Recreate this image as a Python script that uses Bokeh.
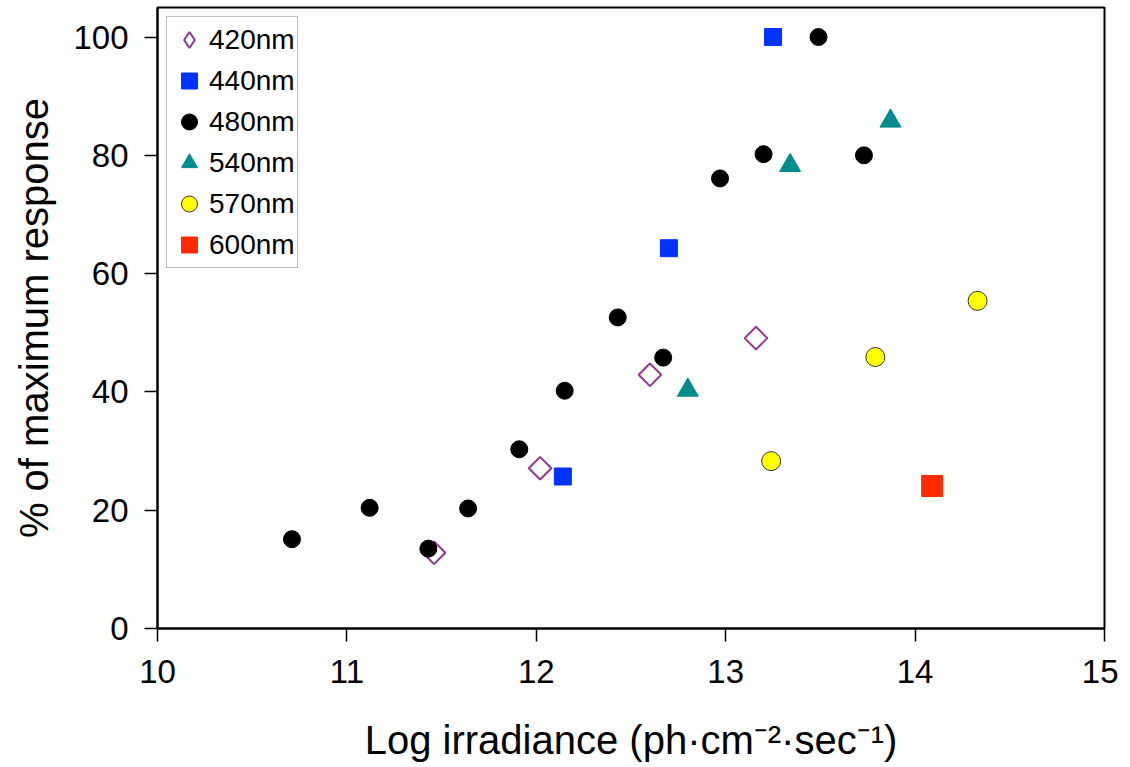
import math
from bokeh.plotting import figure
from bokeh.models import Range1d, FixedTicker, ColumnDataSource, LegendItem, Legend
from bokeh.embed import file_html
from bokeh.resources import INLINE

# ---- data ----
x_420 = [11.46, 12.02, 12.60, 13.16]
y_420 = [12.8, 27.1, 42.9, 49.1]

x_440 = [12.14, 12.70, 13.25]
y_440 = [25.7, 64.3, 100.0]

x_480 = [10.71, 11.12, 11.43, 11.64, 11.91, 12.15, 12.43, 12.67, 12.97, 13.20, 13.49, 13.73]
y_480 = [15.1, 20.4, 13.5, 20.3, 30.3, 40.2, 52.6, 45.8, 76.1, 80.2, 100.0, 80.0]

x_540 = [12.80, 13.34, 13.87]
y_540 = [40.3, 78.3, 85.8]

x_570 = [13.24, 13.79, 14.33]
y_570 = [28.3, 45.9, 55.4]

x_600 = [14.09]
y_600 = [24.1]

x_ticks = [10, 11, 12, 13, 14, 15]
y_ticks = [0, 20, 40, 60, 80, 100]

FONT = "Liberation Sans"
PURPLE = "#993399"

p = figure(
    width=1118, height=762,
    frame_width=947, frame_height=621,
    min_border_left=157, min_border_right=14, min_border_top=7, min_border_bottom=134,
    x_range=Range1d(10, 15), y_range=Range1d(0, 105),
    output_backend="svg", toolbar_location=None,
    background_fill_color="white", border_fill_color="white",
)

p.xgrid.visible = False
p.ygrid.visible = False
p.outline_line_color = "black"
p.outline_line_width = 2

for ax in (p.xaxis[0], p.yaxis[0]):
    ax.axis_line_width = 2
    ax.axis_line_color = "black"
    ax.major_tick_line_width = 1.5
    ax.major_tick_out = 13
    ax.major_tick_in = 0
    ax.minor_tick_line_color = None
    ax.major_label_text_font = FONT
    ax.major_label_text_font_size = "33px"
    ax.major_label_text_color = "black"
    ax.axis_label_text_font = FONT
    ax.axis_label_text_font_size = "40px"
    ax.axis_label_text_font_style = "normal"
    ax.axis_label_text_color = "black"

p.xaxis.ticker = FixedTicker(ticks=x_ticks)
p.yaxis.ticker = FixedTicker(ticks=y_ticks)
p.xaxis.axis_label = "Log irradiance (ph\u00b7cm\u207b\u00b2\u00b7sec\u207b\u00b9)"
p.yaxis.axis_label = "% of maximum response"
p.xaxis.major_label_standoff = 18
p.yaxis.major_label_standoff = 16
p.xaxis.axis_label_standoff = 32
p.yaxis.axis_label_standoff = 14

# ---- series ----
# legend swatch for 420nm (open diamond): its points are all "selected" and
# drawn with an invisible selection glyph, so only the legend shows this shape
src_420_legend = ColumnDataSource(data=dict(x=x_420, y=y_420))
src_420_legend.selected.indices = list(range(len(x_420)))
r420_legend = p.scatter("x", "y", source=src_420_legend,
                        marker="diamond", size=20, fill_color=None,
                        line_color=PURPLE, line_width=2,
                        selection_fill_alpha=0, selection_line_alpha=0,
                        nonselection_fill_alpha=0, nonselection_line_alpha=0)

# the 420nm points themselves: squares turned 45 degrees
p.scatter(x_420, y_420, marker="square", angle=math.pi / 4, size=16,
          fill_color=None, line_color=PURPLE, line_width=2)
r440 = p.scatter(x_440, y_440, marker="square", size=17,
                 fill_color="#0033ff", line_color="#0033ff", line_width=1)
r480 = p.scatter(x_480, y_480, marker="circle", size=17,
                 fill_color="black", line_color="black")
r540 = p.scatter(x_540, y_540, marker="triangle", size=21,
                 fill_color="#008c8c", line_color="#008c8c")
r570 = p.scatter(x_570, y_570, marker="circle", size=19,
                 fill_color="#ffff00", line_color="#333333", line_width=1)
r600 = p.scatter(x_600, y_600, marker="square", size=21,
                 fill_color="#ff2a00", line_color="#ff2a00")

lg = Legend(items=[
    LegendItem(label="420nm", renderers=[r420_legend]),
    LegendItem(label="440nm", renderers=[r440]),
    LegendItem(label="480nm", renderers=[r480]),
    LegendItem(label="540nm", renderers=[r540]),
    LegendItem(label="570nm", renderers=[r570]),
    LegendItem(label="600nm", renderers=[r600]),
])
lg.location = "top_left"
lg.margin = 9
lg.padding = 2
lg.spacing = 0
lg.glyph_width = 40
lg.glyph_height = 41
lg.label_height = 41
lg.label_standoff = 0
lg.label_text_font = FONT
lg.label_text_font_size = "28px"
lg.label_text_color = "black"
lg.border_line_color = "#808080"
lg.border_line_width = 1.5
lg.background_fill_color = "white"
lg.background_fill_alpha = 1.0
p.add_layout(lg, "center")

open("out.html", "w").write(file_html(p, INLINE))
